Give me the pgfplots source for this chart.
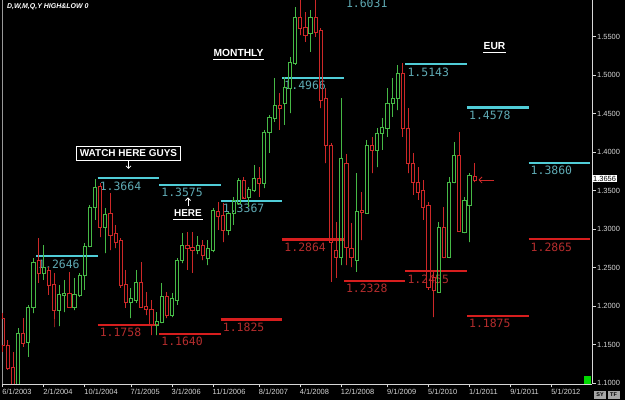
\documentclass[border=0pt]{standalone}
\usepackage{pgfplots}
\pgfplotsset{compat=1.18}
\usepackage{pgfplotstable}
\usetikzlibrary{arrows.meta}
\usepackage{fontspec}
\setmainfont{Liberation Sans}
\newfontfamily\lcd{DejaVu Sans Mono}

\definecolor{upc}{RGB}{70,185,70}
\definecolor{dnc}{RGB}{205,40,40}
\definecolor{hic}{RGB}{80,205,215}
\definecolor{hilab}{RGB}{95,170,180}
\definecolor{loc}{RGB}{215,30,30}
\definecolor{lolab}{RGB}{180,45,45}
\definecolor{axc}{RGB}{215,215,215}

\pgfplotstableread{
m o h l c
0 1.1844 1.1909 1.1403 1.1494
1 1.1494 1.1558 1.1169 1.1195
2 1.1208 1.1403 1.0844 1.0961
3 1.0961 1.1714 1.0883 1.1649
4 1.1649 1.1844 1.1468 1.1519
5 1.1532 1.2013 1.1338 1.1987
6 1.1987 1.2623 1.1909 1.2571
7 1.2597 1.2883 1.2299 1.2429
8 1.2429 1.2792 1.2338 1.2506
9 1.2468 1.2506 1.2143 1.2273
10 1.2286 1.2429 1.1727 1.1948
11 1.1948 1.2273 1.1740 1.2156
12 1.2143 1.2338 1.1922 1.2169
13 1.2169 1.2442 1.1974 1.1987
14 1.1987 1.2364 1.1948 1.2156
15 1.2143 1.2429 1.2117 1.2403
16 1.2403 1.2818 1.2208 1.2779
17 1.2779 1.3312 1.2766 1.3286
18 1.3286 1.3649 1.3117 1.3545
19 1.3558 1.3597 1.2896 1.3026
20 1.3026 1.3273 1.2688 1.3195
21 1.3208 1.3468 1.2727 1.2922
22 1.2948 1.3052 1.2753 1.2831
23 1.2857 1.2883 1.2234 1.2273
24 1.2286 1.2468 1.1974 1.2052
25 1.2052 1.2234 1.1844 1.2104
26 1.2078 1.2468 1.2039 1.2312
27 1.2312 1.2571 1.1974 1.1987
28 1.2000 1.2182 1.1883 1.1961
29 1.1961 1.2078 1.1623 1.1753
30 1.1753 1.1922 1.1623 1.1805
31 1.1792 1.2299 1.1779 1.2130
32 1.2130 1.2182 1.1844 1.1883
33 1.1883 1.2169 1.1857 1.2104
34 1.2078 1.2623 1.2013 1.2597
35 1.2597 1.2948 1.2558 1.2792
36 1.2792 1.2961 1.2468 1.2753
37 1.2766 1.2961 1.2429 1.2727
38 1.2727 1.2909 1.2675 1.2792
39 1.2792 1.2857 1.2597 1.2662
40 1.2623 1.2857 1.2532 1.2753
41 1.2727 1.3273 1.2701 1.3247
42 1.3234 1.3351 1.2987 1.3169
43 1.3182 1.3338 1.2831 1.2987
44 1.2987 1.3221 1.2922 1.3208
45 1.3208 1.3416 1.3052 1.3377
46 1.3338 1.3662 1.3312 1.3636
47 1.3636 1.3675 1.3416 1.3403
48 1.3416 1.3545 1.3286 1.3519
49 1.3506 1.3831 1.3481 1.3662
50 1.3662 1.3805 1.3416 1.3597
51 1.3597 1.4286 1.3532 1.4260
52 1.4260 1.4481 1.3987 1.4455
53 1.4442 1.4961 1.4390 1.4610
54 1.4610 1.4766 1.4286 1.4571
55 1.4636 1.4974 1.4351 1.4844
56 1.4831 1.5234 1.4506 1.5169
57 1.5156 1.5883 1.5130 1.5753
58 1.5753 1.6013 1.5519 1.5610
59 1.5623 1.5818 1.5429 1.5519
60 1.5545 1.5844 1.5299 1.5753
61 1.5753 1.6026 1.5494 1.5558
62 1.5584 1.5610 1.4571 1.4675
63 1.4701 1.4831 1.3857 1.4091
64 1.4091 1.4117 1.2312 1.2831
65 1.2727 1.3091 1.2364 1.2636
66 1.2636 1.4701 1.2532 1.3922
67 1.3857 1.3974 1.2532 1.2766
68 1.2753 1.3078 1.2506 1.2636
69 1.2597 1.3727 1.2442 1.3234
70 1.3247 1.3481 1.2857 1.3221
71 1.3208 1.4156 1.3195 1.4091
72 1.4091 1.4195 1.3727 1.4026
73 1.4026 1.4312 1.3805 1.4247
74 1.4247 1.4442 1.4026 1.4325
75 1.4312 1.4831 1.4195 1.4636
76 1.4636 1.4961 1.4455 1.4701
77 1.4701 1.5130 1.4545 1.5026
78 1.5026 1.5156 1.4195 1.4312
79 1.4312 1.4571 1.3727 1.3857
80 1.3857 1.3987 1.3442 1.3610
81 1.3610 1.3805 1.3377 1.3481
82 1.3506 1.3636 1.3117 1.3286
83 1.3312 1.3351 1.2208 1.2247
84 1.2377 1.2468 1.1857 1.2208
85 1.2182 1.3091 1.2169 1.3026
86 1.3026 1.3286 1.2623 1.2636
87 1.2636 1.3675 1.2623 1.3610
88 1.3610 1.4130 1.3597 1.3961
89 1.3961 1.4260 1.2961 1.2974
90 1.2961 1.3416 1.2948 1.3377
91 1.3312 1.3727 1.2831 1.3701
92 1.3688 1.3857 1.3610 1.3636
}\candles

\tikzset{
  hiline/.style={hic, line width=2.2bp, line cap=butt},
  loline/.style={loc, line width=2.2bp, line cap=butt},
  hilabel/.style={anchor=north west, text=hilab, inner sep=0pt, xshift=2bp, yshift=-3.5bp, font=\lcd\fontsize{11.5}{12}\selectfont},
  lolabel/.style={anchor=north west, text=lolab, inner sep=0pt, xshift=2bp, yshift=-3.5bp, font=\lcd\fontsize{11.5}{12}\selectfont},
}

\begin{document}
\begin{tikzpicture}
\useasboundingbox (0,0) rectangle (625bp,400bp);
\fill[black] (0,0) rectangle (625bp,400bp);
\draw[white!60!black, line width=1.2bp] (2.3bp,16bp) -- (2.3bp,400bp);
\begin{axis}[
  at={(2bp,16bp)}, anchor=south west,
  scale only axis, width=590bp, height=384bp,
  xmin=-0.1365, xmax=114.876, ymin=1.0987, ymax=1.5974,
  axis x line*=bottom, axis y line*=right,
  axis line style={draw=axc, line width=0.9bp, -},
  clip mode=individual,
  tick align=outside, major tick length=3.5bp,
  tick style={axc, line width=0.6bp},
  xtick={0,8,16,25,33,41,50,58,66,75,83,91,99,107},
  xticklabels={6/1/2003,2/1/2004,10/1/2004,7/1/2005,3/1/2006,11/1/2006,8/1/2007,4/1/2008,12/1/2008,9/1/2009,5/1/2010,1/1/2011,9/1/2011,5/1/2012},
  xticklabel style={anchor=north west, inner sep=0.5bp, yshift=-0.5bp, xshift=-1bp, font=\fontsize{7.5}{8}\selectfont, text=axc},
  ytick={1.1,1.15,1.2,1.25,1.3,1.35,1.4,1.45,1.5,1.55},
  y tick label style={/pgf/number format/fixed, /pgf/number format/fixed zerofill, /pgf/number format/precision=4, /pgf/number format/assume math mode=true, font=\fontsize{7.5}{8}\selectfont, text=axc, inner sep=1.5bp},
]
% yearly high / low levels
\addplot[hiline] coordinates {(6.5,1.2646) (18.5,1.2646)};
\addplot[hiline] coordinates {(18.5,1.3664) (30.5,1.3664)};
\addplot[hiline] coordinates {(30.5,1.3575) (42.5,1.3575)};
\addplot[hiline] coordinates {(42.5,1.3367) (54.5,1.3367)};
\addplot[hiline] coordinates {(54.5,1.4966) (66.5,1.4966)};
\addplot[hiline] coordinates {(66.5,1.6031) (78.5,1.6031)};
\addplot[hiline] coordinates {(78.5,1.5143) (90.5,1.5143)};
\addplot[hiline] coordinates {(90.5,1.4578) (102.5,1.4578)};
\addplot[hiline] coordinates {(102.5,1.3860) (114.5,1.3860)};
\addplot[loline] coordinates {(18.5,1.1758) (30.5,1.1758)};
\addplot[loline] coordinates {(30.5,1.1640) (42.5,1.1640)};
\addplot[loline] coordinates {(42.5,1.1825) (54.5,1.1825)};
\addplot[loline] coordinates {(54.5,1.2864) (66.5,1.2864)};
\addplot[loline] coordinates {(66.5,1.2328) (78.5,1.2328)};
\addplot[loline] coordinates {(78.5,1.2455) (90.5,1.2455)};
\addplot[loline] coordinates {(90.5,1.1875) (102.5,1.1875)};
\addplot[loline] coordinates {(102.5,1.2865) (114.5,1.2865)};
\node[hilabel] at (axis cs:6.5,1.2646) {1.2646};
\node[hilabel] at (axis cs:18.5,1.3664) {1.3664};
\node[hilabel] at (axis cs:30.5,1.3575) {1.3575};
\node[hilabel] at (axis cs:42.5,1.3367) {1.3367};
\node[hilabel] at (axis cs:54.5,1.4966) {1.4966};
\node[hilabel] at (axis cs:66.5,1.6031) {1.6031};
\node[hilabel] at (axis cs:78.5,1.5143) {1.5143};
\node[hilabel] at (axis cs:90.5,1.4578) {1.4578};
\node[hilabel] at (axis cs:102.5,1.3860) {1.3860};
\node[lolabel] at (axis cs:18.5,1.1758) {1.1758};
\node[lolabel] at (axis cs:30.5,1.1640) {1.1640};
\node[lolabel] at (axis cs:42.5,1.1825) {1.1825};
\node[lolabel] at (axis cs:54.5,1.2864) {1.2864};
\node[lolabel] at (axis cs:66.5,1.2328) {1.2328};
\node[lolabel] at (axis cs:78.5,1.2455) {1.2455};
\node[lolabel] at (axis cs:90.5,1.1875) {1.1875};
\node[lolabel] at (axis cs:102.5,1.2865) {1.2865};
% candles: one path per candle (upper wick, hollow body, lower wick)
\pgfplotsforeachungrouped \i in {0,...,92}{%
  \pgfplotstablegetelem{\i}{m}\of\candles \let\cm\pgfplotsretval
  \pgfplotstablegetelem{\i}{o}\of\candles \let\co\pgfplotsretval
  \pgfplotstablegetelem{\i}{h}\of\candles \let\ch\pgfplotsretval
  \pgfplotstablegetelem{\i}{l}\of\candles \let\cl\pgfplotsretval
  \pgfplotstablegetelem{\i}{c}\of\candles \let\cc\pgfplotsretval
  \pgfmathsetmacro\cbot{min(\co,\cc)}%
  \pgfmathsetmacro\ctop{max(\co,\cc)}%
  \pgfmathsetmacro\xl{\cm-0.31}%
  \pgfmathsetmacro\xr{\cm+0.31}%
  \pgfmathtruncatemacro\isup{\cc>=\co}%
  \ifnum\isup=1 \def\ccol{upc}\else\def\ccol{dnc}\fi
  \edef\temp{\noexpand\addplot[draw=\ccol, line width=0.9bp, line join=miter] coordinates {(\cm,\ch) (\cm,\ctop) (\xr,\ctop) (\xr,\cbot) (\cm,\cbot) (\cm,\cl) (\cm,\cbot) (\xl,\cbot) (\xl,\ctop) (\cm,\ctop)};}%
  \temp
}
\node[fill=white, text=black, anchor=west, inner sep=1bp, font=\fontsize{7.5}{8}\selectfont] at (axis cs:114.876,1.3656) {1.3656};
\end{axis}
\begin{scope}[x=1bp, y=-1bp, yshift=400bp]
\node[anchor=west, text=white, inner sep=0pt, font=\fontsize{7}{8}\selectfont\bfseries\itshape] at (7,7) {D,W,M,Q,Y HIGH\&LOW 0};
\node[text=white, inner sep=0pt, font=\fontsize{10.3}{12}\selectfont\bfseries] at (238.5,53) {MONTHLY};
\draw[white, line width=1bp] (213,59.5) -- (264,59.5);
\node[text=white, inner sep=0pt, font=\fontsize{10.3}{12}\selectfont\bfseries] at (494.5,46) {EUR};
\draw[white, line width=1bp] (483,52.5) -- (506,52.5);
\node[draw=white, line width=0.9bp, text=white, inner sep=0pt, minimum width=104bp, minimum height=14bp, font=\fontsize{10}{12}\selectfont\bfseries] at (128.5,153.5) {WATCH HERE GUYS};
\draw[white, line width=0.8bp, -{Straight Barb[length=2.5bp,width=5bp]}] (128.5,161) -- (128.5,169);
\node[text=white, inner sep=0pt, font=\fontsize{10}{12}\selectfont\bfseries] at (188,213) {HERE};
\draw[white, line width=1.2bp] (173,219.5) -- (203,219.5);
\draw[white, line width=0.8bp, -{Straight Barb[length=2.5bp,width=5bp]}] (188,206) -- (188,197.5);
\draw[dnc, line width=0.8bp, -{Straight Barb[length=3bp,width=6bp]}] (494,180) -- (478.5,180);
\fill[green!85!black] (584,376) rectangle (591,384);
\node[fill=white!65!black, text=black, inner sep=0pt, minimum width=12bp, minimum height=8bp, font=\fontsize{5.5}{6}\selectfont\bfseries] at (600,395) {SY};
\node[fill=white!65!black, text=black, inner sep=0pt, minimum width=12bp, minimum height=8bp, font=\fontsize{5.5}{6}\selectfont\bfseries] at (613.5,395) {TF};
\end{scope}
\end{tikzpicture}
\end{document}
